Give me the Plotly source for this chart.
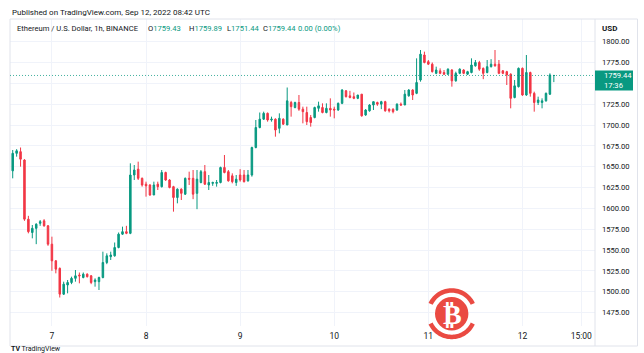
import numpy as np
import pandas as pd
import plotly.graph_objects as go

# ---------------- data (ETH/USD, 1h, Binance) ----------------
start_time = "2022-09-06 14:00"
opens = [1645, 1666, 1668, 1658, 1587, 1571, 1576, 1582, 1585, 1579,
         1557, 1537, 1528, 1497, 1508, 1511, 1516, 1520, 1517, 1521,
         1519, 1512, 1512, 1517, 1535, 1542, 1543, 1553, 1569, 1572,
         1570, 1640, 1647, 1636, 1629, 1628, 1616, 1629, 1626, 1643,
         1634, 1626, 1613, 1623, 1617, 1636, 1636, 1618, 1631, 1644,
         1628, 1630, 1630, 1631, 1649, 1644, 1639, 1631, 1640, 1640,
         1633, 1640, 1673, 1697, 1707, 1714, 1706, 1707, 1696, 1707,
         1700, 1727, 1721, 1727, 1719, 1715, 1709, 1709, 1720, 1721,
         1715, 1720, 1719, 1718, 1726, 1741, 1735, 1734, 1732, 1737,
         1712, 1717, 1724, 1727, 1725, 1728, 1719, 1719, 1718, 1725,
         1724, 1735, 1742, 1738, 1754, 1784, 1776, 1773, 1762, 1765,
         1763, 1761, 1766, 1753, 1762, 1766, 1761, 1763, 1771, 1775,
         1768, 1763, 1770, 1773, 1773, 1765, 1764, 1761, 1733, 1746,
         1768, 1736, 1763, 1738, 1727, 1727, 1729, 1737, 1759.43]
highs = [1670, 1671, 1673, 1659, 1591, 1580, 1582, 1586, 1587, 1580,
         1566, 1538, 1529, 1512, 1514, 1518, 1526, 1523, 1523, 1522,
         1520, 1516, 1518, 1548, 1546, 1548, 1559, 1571, 1578, 1579,
         1654, 1652, 1656, 1637, 1632, 1629, 1632, 1632, 1646, 1644,
         1635, 1627, 1624, 1624, 1637, 1644, 1646, 1646, 1646, 1652,
         1640, 1632, 1634, 1650, 1664, 1646, 1642, 1640, 1647, 1646,
         1646, 1674, 1706, 1715, 1716, 1715, 1710, 1708, 1714, 1708,
         1745, 1729, 1728, 1736, 1722, 1722, 1712, 1722, 1728, 1726,
         1726, 1732, 1722, 1727, 1743, 1742, 1741, 1739, 1736, 1737,
         1719, 1725, 1728, 1728, 1729, 1729, 1720, 1720, 1726, 1727,
         1742, 1743, 1743, 1780, 1790, 1788, 1778, 1775, 1770, 1768,
         1766, 1768, 1767, 1764, 1768, 1767, 1765, 1780, 1778, 1777,
         1769, 1778, 1779, 1790, 1778, 1766, 1765, 1762, 1754, 1769,
         1769, 1784, 1764, 1740, 1734, 1732, 1739, 1762, 1759.89]
lows = [1636, 1662, 1650, 1585, 1570, 1564, 1557, 1579, 1578, 1555,
        1525, 1522, 1493, 1496, 1498, 1509, 1512, 1510, 1516, 1517,
        1509, 1506, 1502, 1516, 1533, 1538, 1542, 1552, 1568, 1569,
        1569, 1634, 1634, 1626, 1614, 1615, 1616, 1622, 1625, 1633,
        1624, 1596, 1606, 1610, 1616, 1628, 1611, 1599, 1630, 1628,
        1622, 1627, 1626, 1630, 1642, 1632, 1630, 1627, 1632, 1631,
        1632, 1638, 1672, 1696, 1706, 1704, 1704, 1686, 1690, 1700,
        1700, 1710, 1720, 1717, 1702, 1700, 1698, 1708, 1716, 1714,
        1714, 1710, 1708, 1717, 1725, 1733, 1732, 1731, 1731, 1710,
        1711, 1716, 1718, 1723, 1719, 1716, 1715, 1714, 1717, 1723,
        1724, 1734, 1730, 1737, 1752, 1774, 1772, 1763, 1761, 1761,
        1760, 1760, 1746, 1752, 1761, 1761, 1760, 1762, 1770, 1765,
        1755, 1762, 1769, 1770, 1761, 1761, 1748, 1720, 1732, 1745,
        1735, 1735, 1734, 1716, 1724, 1720, 1728, 1736, 1751.44]
closes = [1666, 1669, 1659, 1587, 1572, 1576, 1581, 1584, 1579, 1557,
          1537, 1527, 1497, 1509, 1511, 1516, 1519, 1519, 1521, 1518,
          1511, 1514, 1517, 1535, 1543, 1544, 1553, 1569, 1572, 1570,
          1640, 1646, 1636, 1628, 1627, 1616, 1628, 1626, 1643, 1634,
          1625, 1613, 1623, 1618, 1636, 1635, 1617, 1635, 1644, 1629,
          1631, 1631, 1631, 1649, 1643, 1633, 1632, 1635, 1634, 1632,
          1640, 1673, 1697, 1707, 1714, 1706, 1707, 1694, 1708, 1701,
          1729, 1722, 1727, 1719, 1716, 1704, 1703, 1721, 1723, 1715,
          1720, 1718, 1718, 1726, 1742, 1734, 1733, 1732, 1736, 1711,
          1718, 1724, 1728, 1725, 1728, 1717, 1717, 1716, 1725, 1724,
          1737, 1742, 1736, 1751, 1785, 1775, 1773, 1764, 1766, 1762,
          1761, 1767, 1753, 1762, 1767, 1762, 1764, 1772, 1775, 1767,
          1762, 1770, 1773, 1771, 1762, 1762, 1760, 1732, 1747, 1768,
          1736, 1763, 1738, 1727, 1730, 1729, 1738, 1760, 1759.44]

x_tick_times = ["2022-09-07 00:00", "2022-09-08 00:00", "2022-09-09 00:00",
                "2022-09-10 00:00", "2022-09-11 00:00", "2022-09-12 00:00",
                "2022-09-12 15:00"]
x_tick_labels = ["7", "8", "9", "10", "11", "12", "15:00"]
y_tick_values = [1475, 1500, 1525, 1550, 1575, 1600, 1625, 1650, 1675,
                 1700, 1725, 1750, 1775, 1800]
legend_labels = ["O", "H", "L", "C"]
legend_values = ["1759.43", "1759.89", "1751.44", "1759.44"]
change_text = "0.00 (0.00%)"
countdown = "17:36"

# ---------------- style ----------------
UP = "#089981"
DOWN = "#f23645"
TXT = "#131722"
GRID = "#f0f3fa"
BORDER = "#e0e3eb"
FONT = "Roboto, Liberation Sans, sans-serif"
W, H = 644, 353
L, R, T, B = 10, 595, 19, 326


def px_x(p):
    return (p - L) / (R - L)


def px_y(p):
    return (B - p) / (B - T)


times = pd.date_range(start_time, periods=len(opens), freq="h")
t0 = times[0]

fig = go.Figure()
fig.add_trace(go.Candlestick(
    x=times, open=opens, high=highs, low=lows, close=closes,
    increasing=dict(line=dict(color=UP, width=1), fillcolor=UP),
    decreasing=dict(line=dict(color=DOWN, width=1), fillcolor=DOWN),
    whiskerwidth=0, hoverinfo="skip", showlegend=False,
))

y_ticktext = ["" if v == 1750 else f"{v:.2f}" for v in y_tick_values]

fig.update_layout(
    width=W, height=H,
    margin=dict(l=L, r=W - R, t=T, b=H - B, pad=0),
    paper_bgcolor="white", plot_bgcolor="white",
    boxgap=0.45,
    font=dict(family=FONT, color=TXT, size=8),
    xaxis=dict(
        type="date",
        range=[t0 - pd.Timedelta(hours=0.69), t0 + pd.Timedelta(hours=148.5)],
        tickvals=pd.to_datetime(x_tick_times, format="%Y-%m-%d %H:%M"),
        ticktext=x_tick_labels,
        showgrid=True, gridcolor=GRID, gridwidth=1,
        zeroline=False, showline=False, ticks="",
        ticklabelstandoff=3,
        tickfont=dict(size=8.5, color=TXT),
        rangeslider=dict(visible=False), fixedrange=True,
    ),
    yaxis=dict(
        side="right", range=[1458.8, 1827.2],
        tickvals=y_tick_values, ticktext=y_ticktext,
        showgrid=True, gridcolor=GRID, gridwidth=1,
        zeroline=False, showline=False, ticks="",
        ticklabelstandoff=6,
        tickfont=dict(size=7.6, color=TXT), fixedrange=True,
    ),
)

shapes = []
shapes.append(dict(type="rect", xref="paper", yref="paper",
                   x0=px_x(10), x1=px_x(637.5), y0=px_y(19), y1=px_y(346),
                   line=dict(color=BORDER, width=1), layer="above"))
shapes.append(dict(type="line", xref="paper", yref="paper",
                   x0=1, x1=1, y0=px_y(19), y1=px_y(346),
                   line=dict(color=BORDER, width=1), layer="above"))
last_close = closes[-1]
shapes.append(dict(type="line", xref="paper", yref="y",
                   x0=0, x1=1, y0=last_close, y1=last_close, opacity=0.75,
                   line=dict(color=UP, width=1, dash="1px,2px"), layer="above"))
shapes.append(dict(type="rect", xref="paper", yref="y",
                   x0=1, x1=px_x(633), ysizemode="pixel", yanchor=last_close,
                   y0=5, y1=-15, fillcolor=UP, line=dict(width=0), layer="above"))

cx, cy, rc = 451.7, 313.7, 16.7
shapes.append(dict(type="circle", xref="paper", yref="paper",
                   x0=px_x(cx - rc), x1=px_x(cx + rc),
                   y0=px_y(cy + rc), y1=px_y(cy - rc),
                   fillcolor="#ea4a42", line=dict(width=0), layer="above"))


def arc_path(a0, a1, r_in, r_out):
    angs = np.radians(np.linspace(a0, a1, 40))
    pts = [(cx + r_out * np.cos(a), cy - r_out * np.sin(a)) for a in angs]
    pts += [(cx + r_in * np.cos(a), cy - r_in * np.sin(a)) for a in angs[::-1]]
    return "M " + " L ".join(f"{px_x(px):.5f},{px_y(py):.5f}" for px, py in pts) + " Z"


for a0, a1 in [(25, 155), (205, 335)]:
    shapes.append(dict(type="path", xref="paper", yref="paper",
                       path=arc_path(a0, a1, 21, 25.5),
                       fillcolor="#ea4a42", line=dict(width=0), layer="above"))

fig.update_layout(shapes=shapes)

ann = []


def text_at(px, py, text, size, color=TXT, **kw):
    ann.append(dict(xref="paper", yref="paper", x=px_x(px), y=px_y(py),
                    xanchor="left", yanchor="middle", showarrow=False,
                    borderpad=0,
                    text=text, font=dict(size=size, color=color), **kw))


text_at(11, 12.7, "Published on TradingView.com, Sep 12, 2022 08:42 UTC", 8)
HDR = 7.6
text_at(15.5, 28, "Ethereum / U.S. Dollar, 1h, BINANCE", HDR)
for px, lab, val in zip([147, 188, 226, 262], legend_labels, legend_values):
    text_at(px, 28, f"{lab}<span style='color:{UP}'>{val}</span>", HDR)
text_at(297, 28, change_text, HDR, UP)
text_at(601, 28.5, "<b>USD</b>", 8)

ann.append(dict(xref="paper", yref="y", x=px_x(601.5), y=last_close,
                xanchor="left", yanchor="middle", showarrow=False,
                text=f"{last_close:.2f}", font=dict(size=7.6, color="white")))
ann.append(dict(xref="paper", yref="y", x=px_x(601.5), y=last_close, yshift=-10,
                xanchor="left", yanchor="middle", showarrow=False,
                text=countdown, font=dict(size=7.6, color="white")))
ann.append(dict(xref="paper", yref="paper", x=px_x(cx + 0.5), y=px_y(cy + 0.5),
                xanchor="center", yanchor="middle", showarrow=False,
                text="<b>₿</b>",
                font=dict(size=28, color="white", family="DejaVu Sans")))
text_at(10, 349.3, "<b>TV</b> TradingView", 7)
fig.update_layout(annotations=ann)

fig.write_html("out.html", config=dict(displayModeBar=False, staticPlot=True))
